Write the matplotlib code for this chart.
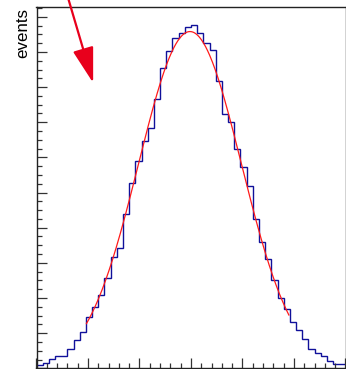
import numpy as np
from matplotlib import pyplot as plt

plt.rcParams['font.family'] = ['Liberation Sans', 'DejaVu Sans']

# histogram: 50 bins between -3 and 3
x_min, x_max, n_bins = -3.0, 3.0, 50
counts = [9, 16, 26, 36, 36, 56, 80, 104, 147, 175,
          209, 256, 317, 341, 438, 528, 591, 648, 683, 766,
          853, 904, 941, 955, 972, 976, 953, 925, 906, 818,
          723, 700, 625, 572, 519, 425, 358, 310, 251, 200,
          169, 131, 109, 83, 55, 44, 36, 22, 13, 13]

# gaussian fit result and the range it was drawn over
fit_amp, fit_mean, fit_sigma = 958.0, -0.02, 1.0
fit_lo, fit_hi = -2.03, 1.90

# arrow (start, tip)
arrow_from = (-2.43, 1075)
arrow_to = (-1.90, 812)

fig = plt.figure(figsize=(3.46, 3.69), dpi=100)
ax = fig.add_axes([36.5 / 346, 0.7 / 369, 309 / 346, 361 / 369])

edges = np.linspace(x_min, x_max, n_bins + 1)
ax.stairs(counts, edges, color='#10109a', lw=1.0, baseline=None)

xf = np.linspace(fit_lo, fit_hi, 300)
ax.plot(xf, fit_amp * np.exp(-0.5 * ((xf - fit_mean) / fit_sigma) ** 2),
        color='#ff1a1a', lw=0.9)

ax.annotate('', xy=arrow_to, xytext=arrow_from, annotation_clip=False,
            arrowprops=dict(arrowstyle='-|>,head_length=2.2,head_width=0.65',
                            color='#e8001c', lw=1.6, shrinkA=0, shrinkB=0,
                            mutation_scale=10))

ax.set_xlim(x_min, x_max)
ax.set_ylim(0, 1027)
ax.set_xticks(np.arange(-3, 3.01, 1))
ax.set_xticks(np.arange(-3, 3.01, 0.2), minor=True)
ax.set_yticks(np.arange(0, 1001, 100))
ax.set_yticks(np.arange(0, 1026, 25), minor=True)
ax.tick_params(which='both', direction='in', labelbottom=False, labelleft=False,
               color='#333333', width=0.9)
ax.tick_params(which='major', length=7)
ax.tick_params(which='minor', length=3.4)
for s in ax.spines.values():
    s.set_linewidth(1.0)
    s.set_color('#222222')

fig.text(30.5 / 346, 1 - 8 / 369, 'events', rotation=90, ha='right', va='top',
         fontsize=12.2)

fig.savefig('out.png', dpi=100)
